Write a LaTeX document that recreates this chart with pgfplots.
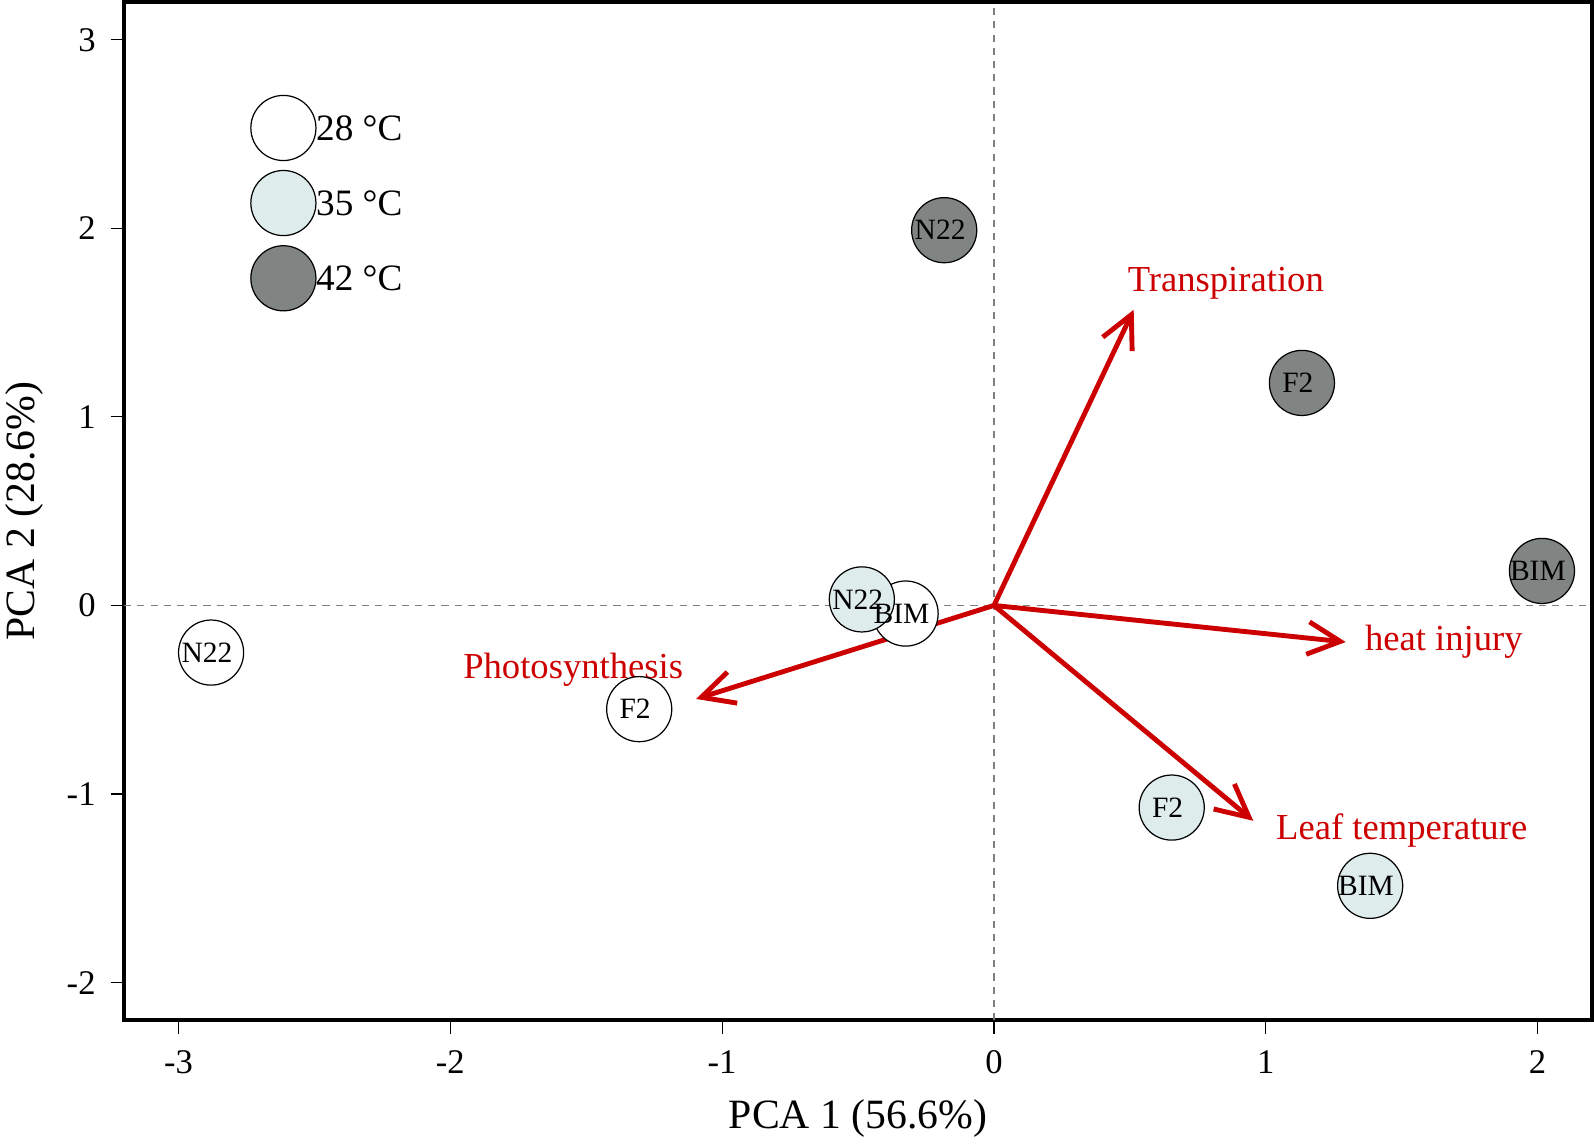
\documentclass[border=0pt]{standalone}
\usepackage{pgfplots}
\pgfplotsset{compat=1.18}
\usepackage{fontspec}
\setmainfont{Liberation Serif}
\usetikzlibrary{arrows.meta}
\definecolor{arr}{RGB}{204,0,0}
\definecolor{cA}{RGB}{255,255,255}
\definecolor{cB}{RGB}{223,236,236}
\definecolor{cC}{RGB}{128,132,130}
\begin{document}
\begin{tikzpicture}
\begin{axis}[
 scale only axis, width=721.5pt, height=500.5pt,
 xmin=-3.2,xmax=2.2,ymin=-2.2,ymax=3.2,
 axis line style={line width=2pt},
 xtick={-3,-2,-1,0,1,2}, ytick={-2,-1,0,1,2,3},
 xtick pos=lower, ytick pos=left,
 tick align=outside, major tick length=6.5pt,
 tick style={line width=0.6pt,black},
 ticklabel style={font=\fontsize{17}{20}\selectfont},
 xticklabel style={yshift=-5pt},
 yticklabel style={xshift=-4pt},
 /pgf/number format/assume math mode=true,
 xlabel={PCA 1 (56.6\%)}, ylabel={PCA 2 (28.6\%)},
 label style={font=\fontsize{20.5}{24}\selectfont},
 xlabel style={at={(rel axis cs:0.5,0)},anchor=center,yshift=-48.5pt},
 ylabel style={at={(rel axis cs:0,0.5)},anchor=center,yshift=49pt},
 point meta=explicit symbolic,
 every node near coord/.append style={font=\fontsize{14.5}{17}\selectfont,anchor=center,text=black},
 circ/.style={only marks, mark=*, mark size=16pt, mark options={fill=#1, draw=black, line width=0.6pt}},
 lab/.style={draw=none, mark=none, nodes near coords, every node near coord/.append style={anchor=center, xshift=-2pt}},
 leg/.style={nodes near coords, every node near coord/.append style={anchor=west, xshift=12.5pt, font=\fontsize{18.3}{21}\selectfont}},
 arrw/.style={arr, line width=2.4pt, -{Straight Barb[length=16pt,width=16pt,line width=2.4pt]}},
 clip=false,
]
% reference lines
\addplot[gray, line width=0.6pt, dash pattern=on 3.5pt off 3pt] coordinates {(0,-2.2) (0,3.2)};
\addplot[gray, line width=0.6pt, dash pattern=on 3.5pt off 3pt] coordinates {(-3.2,0) (2.2,0)};
% legend
\addplot[circ=cA, leg] coordinates {(-2.614,2.532) [28 °C]};
\addplot[circ=cB, leg] coordinates {(-2.614,2.134) [35 °C]};
\addplot[circ=cC, leg] coordinates {(-2.614,1.735) [42 °C]};
% circles: 28 C, 35 C, 42 C
\addplot[circ=cA] coordinates {(-2.88,-0.25) (-1.305,-0.55) (-0.325,-0.043)};
\addplot[circ=cB] coordinates {(-0.486,0.032) (0.654,-1.072) (1.384,-1.487)};
\addplot[circ=cC] coordinates {(-0.183,1.99) (1.133,1.18) (2.016,0.183)};
% labels
\addplot[lab] coordinates {(-2.88,-0.25) [N22] (-1.305,-0.55) [F2] (-0.325,-0.043) [BIM]};
\addplot[lab] coordinates {(-0.486,0.032) [N22] (0.654,-1.072) [F2] (1.384,-1.487) [BIM]};
\addplot[lab] coordinates {(-0.183,1.99) [N22] (1.133,1.18) [F2] (2.016,0.183) [BIM]};
% loadings
\addplot[arrw] coordinates {(0,0) (0.514,1.568)};
\addplot[arrw] coordinates {(0,0) (1.294,-0.194)};
\addplot[arrw] coordinates {(0,0) (0.954,-1.142)};
\addplot[arrw] coordinates {(0,0) (-1.096,-0.496)};
\node[text=arr, font=\fontsize{18}{21}\selectfont] at (axis cs:0.853,1.708) {Transpiration};
\node[text=arr, font=\fontsize{18}{21}\selectfont] at (axis cs:1.655,-0.194) {heat injury};
\node[text=arr, font=\fontsize{18}{21}\selectfont] at (axis cs:1.5,-1.196) {Leaf temperature};
\node[text=arr, font=\fontsize{18}{21}\selectfont] at (axis cs:-1.548,-0.339) {Photosynthesis};
\end{axis}
\pgfresetboundingbox
\path (current axis.south west) ++(-61pt,-60.5pt) rectangle (current axis.north east);
\path (current axis.north east) ++(1pt,1pt);
\end{tikzpicture}
\end{document}
